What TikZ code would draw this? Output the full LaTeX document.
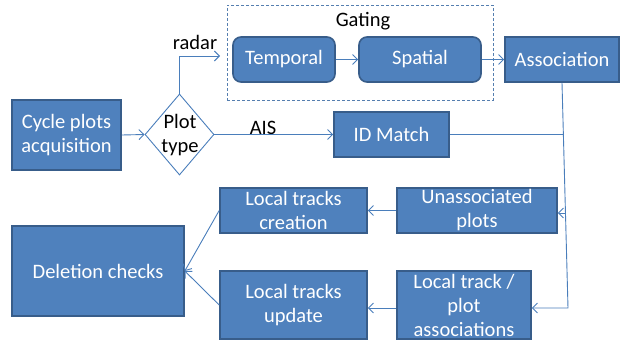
\documentclass[tikz,border=0pt]{standalone}
\usepackage{fontspec}
\setmainfont{Carlito}
\usetikzlibrary{shapes.geometric,arrows.meta}
\definecolor{boxfill}{HTML}{4F81BD}
\definecolor{boxline}{HTML}{385D8A}
\definecolor{conn}{HTML}{4A7EBB}
\begin{document}
\begin{tikzpicture}[x=1pt,y=-1pt,
  font=\fontsize{20.5}{24}\selectfont,
  box/.style={draw=boxline,line width=1.6pt,fill=boxfill,text=white,align=center,inner sep=0pt},
  rbox/.style={box,rounded corners=8pt},
  arr/.style={draw=conn,line width=0.9pt,-{Straight Barb[length=5pt,width=10pt]}},
  ln/.style={draw=conn,line width=0.9pt},
  lbl/.style={text=black,inner sep=0pt}]
\useasboundingbox (0,0) rectangle (624,340);
% gating frame
\node[draw=conn!80!gray,dashed,dash pattern=on 3pt off 2pt,line width=0.8pt,minimum width=266pt,minimum height=95pt,inner sep=0pt] (gate) at (360,52.5) {};
\node[lbl] (gatinglbl) at (363,21) {Gating};
% nodes
\node[box,minimum width=109pt,minimum height=70pt] (cycle) at (66.5,135) {Cycle plots\\acquisition};
\node[diamond,draw=conn,line width=0.9pt,minimum width=69pt,minimum height=81pt,inner sep=0pt] (pt) at (179.5,134.5) {};
\node[lbl,align=center] (ptlbl) at (180,135.5) {Plot\\type};
\node[rbox,minimum width=102pt,minimum height=45pt] (temp) at (284,59.5) {Temporal};
\node[rbox,minimum width=122pt,minimum height=45pt] (spat) at (420,59.5) {Spatial};
\node[box,minimum width=114pt,minimum height=45pt] (assoc) at (562,59.5) {Association};
\node[box,minimum width=115pt,minimum height=45pt] (idm) at (391.5,134.5) {ID Match};
\node[box,minimum width=160pt,minimum height=45pt] (unas) at (477,210.5) {Unassociated\\plots};
\node[box,minimum width=134pt,minimum height=68pt] (ltp) at (464,305) {Local track /\\plot\\associations};
\node[box,minimum width=147pt,minimum height=45pt] (ltc) at (293.5,210.5) {Local tracks\\creation};
\node[box,minimum width=147pt,minimum height=68pt] (ltu) at (293.5,305) {Local tracks\\update};
\node[box,minimum width=172pt,minimum height=90pt] (del) at (98,271) {Deletion checks};
% labels
\node[lbl] (radarlbl) at (195,42) {radar};
\node[lbl] (aislbl) at (263,128) {AIS};
% coordinates
\coordinate (radarend) at (220,56);
\coordinate (jid) at (563,134.5);
\coordinate (jun) at (566,213);
\coordinate (jbot) at (568,308);
% connectors
\draw[arr] (cycle.east) -- (pt.west);
\draw[arr] (pt.north) |- (radarend);
\draw[arr] (temp.east) -- (spat.west);
\draw[arr] (spat.east) -- (assoc.west);
\draw[arr] (pt.east) -- (idm.west);
\draw[ln] (idm.east) -- (jid);
\draw[arr] (assoc.south) -- (jbot) -- (ltp.east |- jbot);
\draw[arr] (jun) -- (unas.east |- jun);
\draw[arr] (unas.west) -- (ltc.east);
\draw[arr] (ltp.west |- jbot) -- (ltu.east |- jbot);
\draw[arr] (ltc.west) -- (del.east);
\draw[arr] (ltu.west) -- (del.east);
\end{tikzpicture}
\end{document}
